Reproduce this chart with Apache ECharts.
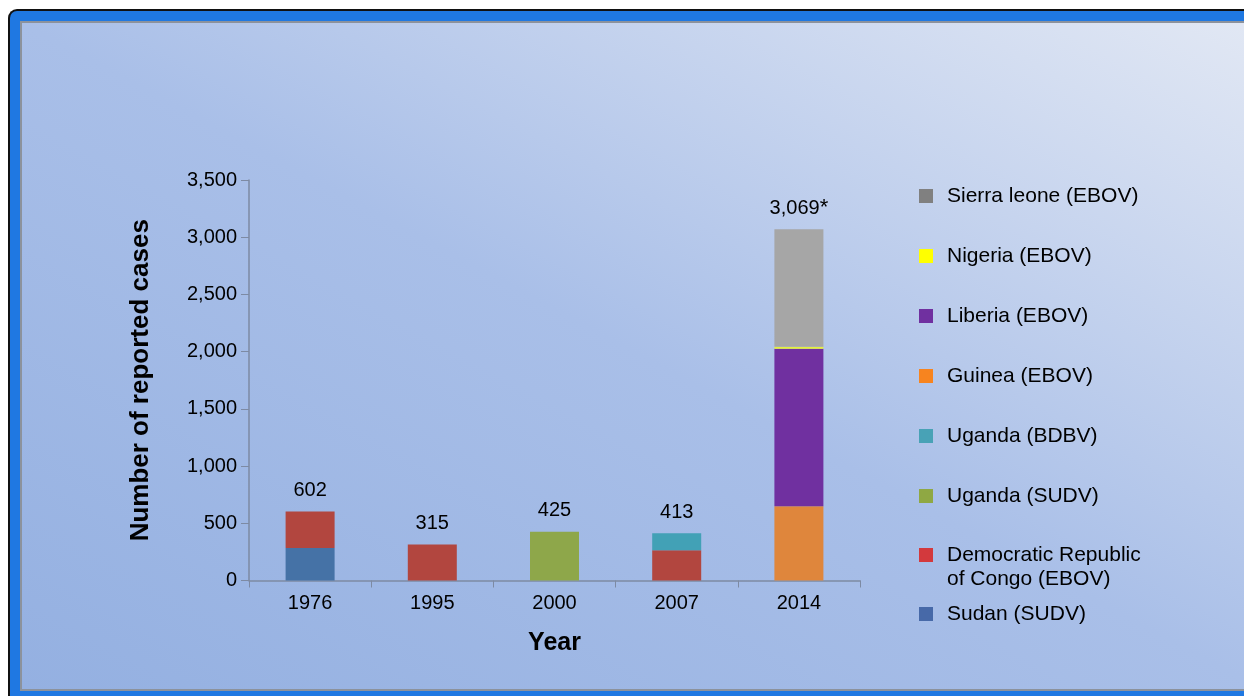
<!DOCTYPE html>
<html>
<head>
<meta charset="utf-8">
<script src="https://cdn.jsdelivr.net/npm/echarts@6/dist/echarts.min.js"></script>
<style>
  html, body { margin: 0; padding: 0; background: #fff; overflow: hidden; }
  #frame {
    position: absolute; left: 8px; top: 9px; width: 1260px; height: 700px;
    background: #1f78e2; border-top: 2px solid #111; border-left: 2px solid #111;
    border-top-left-radius: 9px;
  }
  #panel {
    position: absolute; left: 20px; top: 21px; width: 1240px; height: 666px;
    border: 2px solid #8c929c; border-right: none;
    background: linear-gradient(to top right, #94b0e1 0%, #a9bfe8 50%, #e2e8f4 100%);
  }
  #chart { position: absolute; left: 0; top: 0; width: 1244px; height: 696px; }
</style>
</head>
<body>
<div id="frame"></div>
<div id="panel"></div>
<div id="chart"></div>
<script>
(function (window, document, echarts) {

  var years = ['1976', '1995', '2000', '2007', '2014'];
  var totals = ['602', '315', '425', '413', '3,069{s|*}'];
  var totalValues = [602, 315, 425, 413, 3069];

  // stacked bottom to top
  var sudan = [284, '-', '-', '-', '-'];
  var drc = [318, 315, '-', 264, '-'];
  var ugandaSudv = ['-', '-', 425, '-', '-'];
  var ugandaBdbv = ['-', '-', '-', 149, '-'];
  var guinea = ['-', '-', '-', '-', 648];
  var liberia = ['-', '-', '-', '-', 1378];
  var nigeria = ['-', '-', '-', '-', 17];
  var sierraLeone = ['-', '-', '-', '-', 1026];

  var DRC = 'Democratic Republic of Congo (EBOV)';
  var font = "'Liberation Sans', Arial, sans-serif";
  var axisColor = '#7d8aa3';

  var chart = echarts.init(document.getElementById('chart'));

  function bar(name, data, color) {
    return {
      name: name,
      type: 'bar',
      stack: 'cases',
      barWidth: 49,
      data: data,
      itemStyle: { color: color },
      emphasis: { disabled: true }
    };
  }

  var legendText = {
    fontFamily: font,
    fontSize: 21,
    color: '#000',
    lineHeight: 24,
    padding: [0, 0, 0, 9]
  };

  var option = {
    backgroundColor: 'transparent',
    animation: false,
    textStyle: { fontFamily: font },
    grid: { left: 249, top: 180, right: 384, bottom: 115.5 },
    legend: [{
      orient: 'vertical',
      left: 919,
      top: 184,
      padding: 0,
      itemGap: 36,
      itemWidth: 14,
      itemHeight: 14,
      icon: 'rect',
      selectedMode: false,
      textStyle: legendText,
      data: [
        { name: 'Sierra leone (EBOV)', itemStyle: { color: '#808080' } },
        { name: 'Nigeria (EBOV)', itemStyle: { color: '#ffff00' } },
        { name: 'Liberia (EBOV)', itemStyle: { color: '#7030a0' } },
        { name: 'Guinea (EBOV)', itemStyle: { color: '#f7841f' } },
        { name: 'Uganda (BDBV)', itemStyle: { color: '#48a2b6' } },
        { name: 'Uganda (SUDV)', itemStyle: { color: '#8fa843' } }
      ]
    }, {
      orient: 'vertical',
      left: 919,
      top: 519,
      padding: 0,
      itemGap: 11,
      itemWidth: 14,
      itemHeight: 14,
      icon: 'rect',
      selectedMode: false,
      textStyle: legendText,
      formatter: function (name) {
        return name === DRC ? '\nDemocratic Republic\nof Congo (EBOV)' : name;
      },
      data: [
        { name: DRC, itemStyle: { color: '#d3393d' } },
        { name: 'Sudan (SUDV)', itemStyle: { color: '#4769a8' } }
      ]
    }],
    xAxis: {
      type: 'category',
      data: years,
      boundaryGap: true,
      name: 'Year',
      nameLocation: 'middle',
      nameGap: 50,
      nameTextStyle: { fontFamily: font, fontSize: 25, fontWeight: 'bold', color: '#000' },
      axisLine: { lineStyle: { color: axisColor, width: 1.5 } },
      axisTick: { show: true, length: 7, lineStyle: { color: axisColor } },
      axisLabel: { fontFamily: font, fontSize: 20, color: '#000', margin: 13 }
    },
    yAxis: {
      type: 'value',
      min: 0,
      max: 3500,
      interval: 500,
      name: 'Number of reported cases',
      nameLocation: 'middle',
      nameGap: 95,
      nameTextStyle: { fontFamily: font, fontSize: 26, fontWeight: 'bold', color: '#000' },
      splitLine: { show: false },
      axisLine: { show: true, lineStyle: { color: axisColor, width: 1.5 } },
      axisTick: { show: true, length: 8, lineStyle: { color: axisColor } },
      axisLabel: {
        fontFamily: font, fontSize: 20, color: '#000', margin: 12,
        formatter: function (v) { return v >= 1000 ? Math.floor(v / 1000) + ',' + String(v % 1000).padStart(3, '0') : String(v); }
      }
    },
    series: [
      bar('Sudan (SUDV)', sudan, '#4572a6'),
      bar(DRC, drc, '#b2463f'),
      bar('Uganda (SUDV)', ugandaSudv, '#8ea74a'),
      bar('Uganda (BDBV)', ugandaBdbv, '#42a1b6'),
      bar('Guinea (EBOV)', guinea, '#df863c'),
      bar('Liberia (EBOV)', liberia, '#7030a0'),
      bar('Nigeria (EBOV)', nigeria, '#e6f03c'),
      bar('Sierra leone (EBOV)', sierraLeone, '#a6a6a6'),
      {
        name: 'totals',
        type: 'scatter',
        symbolSize: 0,
        silent: true,
        data: totalValues,
        itemStyle: { color: '#000', opacity: 1 },
        label: {
          show: true,
          position: 'top',
          distance: 10,
          fontFamily: font,
          fontSize: 20,
          lineHeight: 22,
          color: '#000',
          opacity: 1,
          textBorderWidth: 0,
          formatter: function (p) { return totals[p.dataIndex]; },
          rich: {
            s: { fontFamily: font, fontSize: 22, lineHeight: 22, color: '#000' }
          }
        }
      }
    ]
  };

  chart.setOption(option);

})(window, document, echarts);
</script>
</body>
</html>
